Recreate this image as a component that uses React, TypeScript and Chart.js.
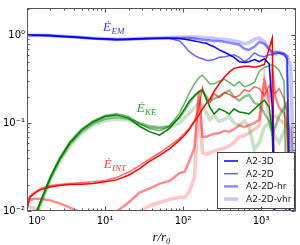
import React, { useEffect, useRef } from 'react';
import { Chart, registerables } from 'chart.js';

Chart.register(...registerables);

// radius grid r / r0
const radius = [1, 1.1, 1.3, 1.5, 2, 2.6, 3.5, 5, 7, 10, 14, 20, 28, 37, 50, 67, 90, 105, 120, 140, 160, 177, 200, 220, 250, 290, 340, 390, 450, 525, 610, 700, 820, 950, 1100, 1270, 1390, 1520, 1700, 1970, 2150, 2400, 2800];

const runs = ['A2-3D', 'A2-2D', 'A2-2D-hr', 'A2-2D-vhr'];

// E_EM
const emA2_3D = [1.0, 1.0, 1.0, 1.0, 0.99, 0.975, 0.96, 0.94, 0.92, 0.905, 0.895, 0.9, 0.91, 0.92, 0.925, 0.925, 0.915, 0.9, 0.88, 0.858, 0.84, 0.82, 0.81, 0.775, 0.74, 0.68, 0.64, 0.6, 0.56, 0.5, 0.49, 0.5, 0.53, 0.5, 0.54, 0.47, 0.15, 0.003, null, null, null, null, null];
const emA2_2D = [1.0, 1.0, 1.0, 0.995, 0.985, 0.97, 0.955, 0.935, 0.915, 0.9, 0.89, 0.895, 0.905, 0.915, 0.92, 0.915, 0.86, 0.75, 0.65, 0.59, 0.555, 0.54, 0.52, 0.515, 0.53, 0.56, 0.57, 0.585, 0.6, 0.56, 0.5, 0.54, 0.63, 0.585, 0.57, 0.6, 0.6, 0.62, 0.63, 0.6, 0.53, 0.003, null];
const emA2_2Dhr = [1.0, 1.0, 1.0, 1.0, 0.99, 0.975, 0.96, 0.94, 0.92, 0.905, 0.895, 0.9, 0.91, 0.92, 0.925, 0.93, 0.93, 0.93, 0.93, 0.92, 0.9, 0.89, 0.88, 0.87, 0.86, 0.86, 0.84, 0.82, 0.8, 0.78, 0.7, 0.68, 0.74, 0.84, 0.8, 0.7, 0.63, 0.65, 0.63, 0.62, 0.57, 0.003, null];
const emA2_2Dvhr = [1.0, 1.0, 1.0, 1.0, 0.99, 0.98, 0.965, 0.945, 0.925, 0.91, 0.9, 0.905, 0.915, 0.925, 0.935, 0.94, 0.945, 0.95, 0.95, 0.95, 0.95, 0.94, 0.93, 0.93, 0.92, 0.9, 0.9, 0.88, 0.86, 0.84, 0.8, 0.82, 0.9, 0.93, 0.85, 0.68, 0.62, 0.6, 0.65, 0.6, 0.58, 0.45, 0.003];

// E_KE
const keA2_3D = [0.004, 0.005, 0.0093, 0.0128, 0.0242, 0.0385, 0.0585, 0.083, 0.103, 0.119, 0.124, 0.114, 0.0915, 0.08, 0.073, 0.087, 0.118, 0.145, 0.177, 0.206, 0.229, 0.24, 0.187, 0.152, 0.127, 0.145, 0.137, 0.127, 0.145, 0.134, 0.131, 0.127, 0.145, 0.164, 0.182, 0.152, 0.079, 0.003, null, null, null, null, null];
const keA2_2D = [0.004, 0.005, 0.0095, 0.0132, 0.025, 0.04, 0.061, 0.086, 0.106, 0.122, 0.128, 0.119, 0.098, 0.087, 0.082, 0.092, 0.13, 0.17, 0.22, 0.28, 0.33, 0.35, 0.31, 0.28, 0.28, 0.3, 0.315, 0.29, 0.266, 0.295, 0.26, 0.27, 0.29, 0.39, 0.43, 0.45, 0.46, 0.44, 0.4, 0.3, 0.003, null, null];
const keA2_2Dhr = [0.004, 0.005, 0.009, 0.0125, 0.0235, 0.0375, 0.057, 0.08, 0.099, 0.112, 0.117, 0.112, 0.099, 0.091, 0.088, 0.092, 0.115, 0.14, 0.17, 0.2, 0.225, 0.23, 0.2, 0.18, 0.19, 0.2, 0.22, 0.235, 0.2, 0.18, 0.2, 0.21, 0.17, 0.16, 0.13, 0.105, 0.075, 0.09, 0.12, 0.15, 0.17, 0.003, null];
const keA2_2Dvhr = [0.004, 0.005, 0.0088, 0.012, 0.023, 0.036, 0.055, 0.077, 0.095, 0.107, 0.111, 0.108, 0.098, 0.092, 0.089, 0.09, 0.1, 0.115, 0.13, 0.15, 0.17, 0.16, 0.13, 0.11, 0.12, 0.105, 0.11, 0.12, 0.1, 0.095, 0.105, 0.09, 0.05, 0.06, 0.09, 0.1, 0.085, 0.07, 0.06, 0.08, 0.1, 0.09, 0.003];

// E_INT
const intA2_3D = [0.0105, 0.0145, 0.0163, 0.0175, 0.0188, 0.0195, 0.02, 0.0202, 0.0205, 0.0215, 0.0226, 0.0255, 0.0305, 0.0366, 0.043, 0.051, 0.064, 0.073, 0.085, 0.104, 0.124, 0.145, 0.169, 0.187, 0.229, 0.28, 0.335, 0.38, 0.42, 0.432, 0.443, 0.443, 0.432, 0.443, 0.466, 0.7, 0.927, 0.003, null, null, null, null, null];
const intA2_2D = [0.0132, 0.015, 0.0167, 0.018, 0.0195, 0.02, 0.0205, 0.021, 0.0215, 0.0222, 0.024, 0.0277, 0.033, 0.039, 0.046, 0.055, 0.067, 0.077, 0.087, 0.107, 0.152, 0.253, 0.182, 0.169, 0.217, 0.196, 0.223, 0.212, 0.196, 0.206, 0.24, 0.229, 0.26, 0.247, 0.206, 0.266, 0.229, 0.217, 0.247, 0.191, 0.131, 0.003, null];
const intA2_2Dhr = [0.013, 0.0135, 0.0138, 0.0138, 0.0132, 0.0122, 0.011, 0.0095, 0.0085, 0.008, 0.0098, 0.0125, 0.0163, 0.018, 0.0205, 0.022, 0.027, 0.028, 0.037, 0.052, 0.23, 0.07, 0.07, 0.073, 0.075, 0.077, 0.082, 0.08, 0.085, 0.095, 0.09, 0.095, 0.1, 0.11, 0.3, 0.18, 0.4, 0.2, 0.15, 0.13, 0.1, 0.003, null];
const intA2_2Dvhr = [0.0112, 0.011, 0.0105, 0.0098, 0.009, 0.0085, 0.008, 0.0075, 0.0072, 0.007, 0.0075, 0.008, 0.0099, 0.0115, 0.0125, 0.0135, 0.0143, 0.0142, 0.0167, 0.024, 0.2, 0.046, 0.044, 0.046, 0.048, 0.05, 0.052, 0.055, 0.06, 0.07, 0.072, 0.077, 0.085, 0.094, 0.3, 0.11, 0.12, 0.12, 0.11, 0.1, 0.09, 0.08, 0.003];

// curve labels (subscripts) and their anchor positions in data units
const curveKeys = ['EM', 'KE', 'INT'];
const labelR = [9.4, 25.4, 9.6];
const labelE = [1.12, 0.134, 0.0306];

const familyRGB: Record<string, string> = { EM: '0,0,255', KE: '0,128,0', INT: '255,0,0' };
const runAlpha = [1, 0.6, 0.45, 0.22];
const runWidth = [1.5, 1.5, 2.5, 3.6];

const SUP: Record<string, string> = { '-': '⁻', '0': '⁰', '1': '¹', '2': '²', '3': '³', '4': '⁴' };
function powLabel(v: number): string {
  const l = Math.log10(v);
  const r = Math.round(l);
  if (Math.abs(l - r) > 1e-6) return '';
  return '10' + String(r).split('').map((c) => SUP[c]).join('');
}

const framePlugin = {
  id: 'frameLegend',
  afterDatasetsDraw(chart: any) {
    const { ctx, chartArea: a, scales } = chart;
    ctx.save();
    // curve labels
    curveKeys.forEach((k, i) => {
      const x = scales.x.getPixelForValue(labelR[i]);
      const y = scales.y.getPixelForValue(labelE[i]);
      ctx.fillStyle = `rgba(${familyRGB[k]},0.8)`;
      ctx.textAlign = 'left';
      ctx.textBaseline = 'alphabetic';
      ctx.font = 'italic 13px "Liberation Serif"';
      ctx.fillText('Ė', x, y);
      const w = ctx.measureText('Ė').width;
      ctx.font = 'italic 9px "Liberation Serif"';
      ctx.fillText(k, x + w + 0.5, y + 3);
    });
    // legend box
    const bw = 77;
    const bh = 56;
    const bx = Math.round(a.right) - 2 - bw;
    const by = Math.round(a.bottom) - 3 - bh;
    ctx.fillStyle = '#ffffff';
    ctx.fillRect(bx, by, bw, bh);
    ctx.strokeStyle = '#444';
    ctx.lineWidth = 1;
    ctx.strokeRect(bx + 0.5, by + 0.5, bw, bh);
    const ds = chart.data.datasets.filter((d: any) => d.family === 'EM');
    ds.forEach((d: any, i: number) => {
      const yy = by + 9 + i * 12.7;
      ctx.strokeStyle = d.borderColor;
      ctx.lineWidth = d.borderWidth;
      ctx.beginPath();
      ctx.moveTo(bx + 7, yy);
      ctx.lineTo(bx + 21, yy);
      ctx.stroke();
      ctx.fillStyle = '#222';
      ctx.font = '9px "DejaVu Sans"';
      ctx.textBaseline = 'middle';
      ctx.textAlign = 'left';
      ctx.fillText(d.label, bx + 29, yy + 0.5);
    });
    ctx.restore();
  },
  afterDraw(chart: any) {
    const { ctx, chartArea: a, scales } = chart;
    ctx.save();
    ctx.strokeStyle = '#555';
    ctx.lineWidth = 1;
    const L = Math.round(a.left) + 0.5;
    const R = Math.round(a.right) - 0.5;
    const T = Math.round(a.top) + 0.5;
    const B = Math.round(a.bottom) - 0.5;
    ctx.beginPath();
    const tickInfo = (v: number) => {
      const e = Math.floor(Math.log10(v) + 1e-9);
      const m = v / Math.pow(10, e);
      if (Math.abs(m - Math.round(m)) > 1e-6) return 0;
      return Math.round(m) === 1 ? 4 : 2;
    };
    scales.x.ticks.forEach((t: any) => {
      const len = tickInfo(t.value);
      if (!len) return;
      const p = Math.round(scales.x.getPixelForValue(t.value)) + 0.5;
      ctx.moveTo(p, B);
      ctx.lineTo(p, B - len);
      ctx.moveTo(p, T);
      ctx.lineTo(p, T + len);
    });
    scales.y.ticks.forEach((t: any) => {
      const len = tickInfo(t.value);
      if (!len) return;
      const p = Math.round(scales.y.getPixelForValue(t.value)) + 0.5;
      ctx.moveTo(L, p);
      ctx.lineTo(L + len, p);
      ctx.moveTo(R, p);
      ctx.lineTo(R - len, p);
    });
    ctx.stroke();
    ctx.strokeRect(L, T, R - L, B - T);
    ctx.restore();
  },
};

function buildDatasets() {
  const groups: [string, (number | null)[][]][] = [
    ['EM', [emA2_3D, emA2_2D, emA2_2Dhr, emA2_2Dvhr]],
    ['KE', [keA2_3D, keA2_2D, keA2_2Dhr, keA2_2Dvhr]],
    ['INT', [intA2_3D, intA2_2D, intA2_2Dhr, intA2_2Dvhr]],
  ];
  const out: any[] = [];
  // order: thin dark runs first so they are drawn on top
  for (let ri = 0; ri < runs.length; ri++) {
    for (const [fam, series] of groups) {
      out.push({
        label: runs[ri],
        family: fam,
        data: radius.map((r, i) => ({ x: r, y: series[ri][i] })),
        borderColor: `rgba(${familyRGB[fam]},${runAlpha[ri]})`,
        borderWidth: runWidth[ri],
        pointRadius: 0,
        fill: false,
        tension: 0,
        clip: 0,
        spanGaps: false,
      });
    }
  }
  return out;
}

export default function App() {
  const ref = useRef<HTMLCanvasElement | null>(null);
  useEffect(() => {
    document.body.style.margin = '0';
    if (!ref.current) return;
    const chart = new Chart(ref.current, {
      type: 'line',
      data: { datasets: buildDatasets() },
      options: {
        animation: false,
        responsive: false,
        devicePixelRatio: 1,
        layout: { padding: { top: 2, right: 3, left: 0, bottom: 0 } },
        plugins: { legend: { display: false }, tooltip: { enabled: false } },
        scales: {
          x: {
            type: 'logarithmic',
            min: 1,
            max: 2800,
            grid: { display: false, drawTicks: false },
            border: { display: false },
            ticks: {
              autoSkip: false,
              maxRotation: 0,
              padding: 4,
              color: '#000',
              font: { family: 'DejaVu Sans', size: 10 },
              // first label sits just right of the corner, as in the source figure
              callback: (v: any) => {
                const s = powLabel(Number(v));
                return Number(v) === 1 ? '\u2007\u2007\u2007' + s : s;
              },
            },
            title: {
              display: true,
              text: 'r/r₀',
              color: '#000',
              font: { family: 'Liberation Serif', style: 'italic', size: 13 },
              padding: { top: 0, bottom: 0 },
            },
            afterFit: (s: any) => {
              s.height = 34;
            },
          },
          y: {
            type: 'logarithmic',
            min: 0.01,
            max: 2.04,
            grid: { display: false, drawTicks: false },
            border: { display: false },
            ticks: {
              autoSkip: false,
              padding: 2,
              color: '#000',
              font: { family: 'DejaVu Sans', size: 10 },
              callback: (v: any) => powLabel(Number(v)),
            },
            afterFit: (s: any) => {
              s.width = 27;
            },
          },
        },
      } as any,
      plugins: [framePlugin],
    });
    return () => chart.destroy();
  }, []);
  return (
    <div style={{ width: 300, height: 245 }}>
      <canvas ref={ref} width={300} height={245} style={{ display: 'block' }} />
    </div>
  );
}
